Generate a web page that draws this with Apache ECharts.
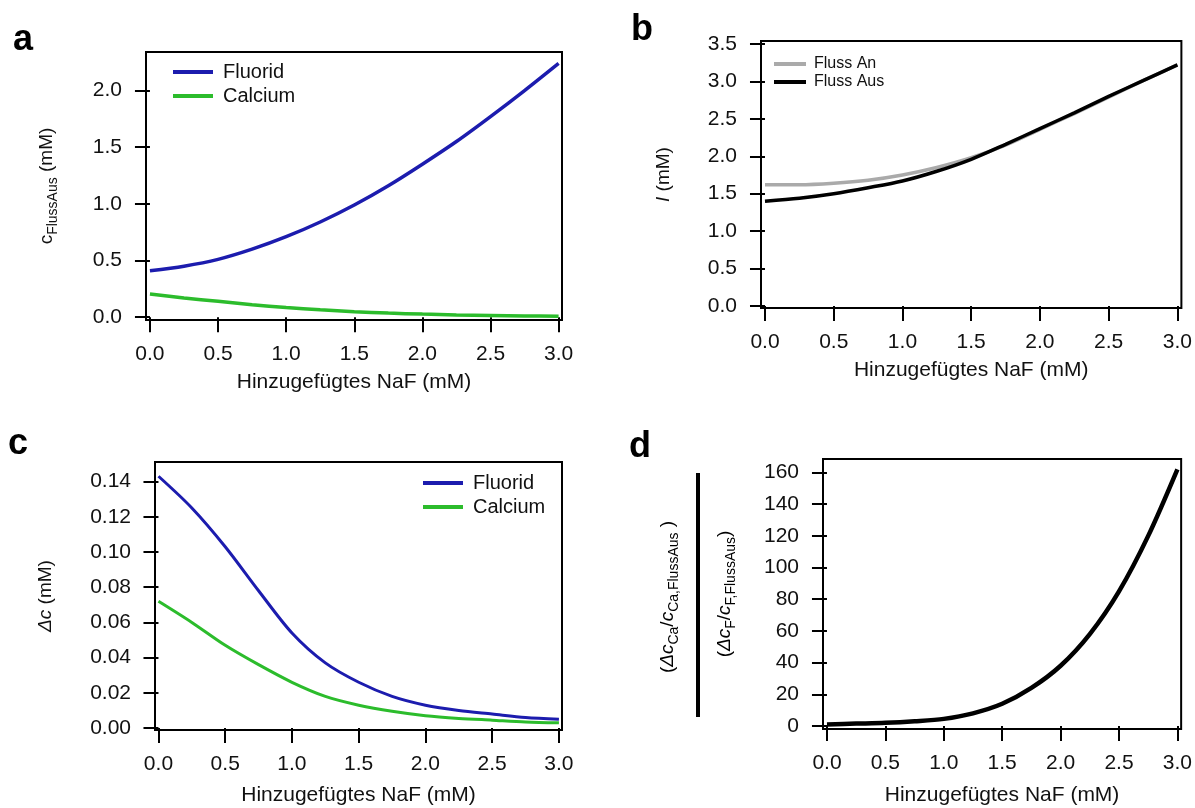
<!DOCTYPE html>
<html>
<head>
<meta charset="utf-8">
<script src="https://cdn.jsdelivr.net/npm/echarts@6/dist/echarts.min.js"></script>
<style>
  html, body { margin: 0; padding: 0; background: #fff; }
  #chart { width: 1195px; height: 808px; }
</style>
</head>
<body>
<div id="chart"></div>
<script>
// x-Werte: hinzugefügtes NaF (mM)
const naf = [0, 0.25, 0.5, 0.75, 1.0, 1.25, 1.5, 1.75, 2.0, 2.25, 2.5, 2.75, 3.0]

// a: c_FlussAus
const aFluorid = [0.41, 0.45, 0.51, 0.60, 0.71, 0.84, 0.99, 1.16, 1.35, 1.55, 1.77, 2.00, 2.24]
const aCalcium = [0.205, 0.17, 0.14, 0.11, 0.085, 0.065, 0.048, 0.036, 0.027, 0.02, 0.015, 0.011, 0.008]

// b: I
const bFlussAn = [1.62, 1.62, 1.64, 1.68, 1.75, 1.85, 1.98, 2.15, 2.36, 2.57, 2.79, 3.01, 3.22]
const bFlussAus = [1.40, 1.44, 1.50, 1.58, 1.67, 1.80, 1.96, 2.16, 2.37, 2.58, 2.80, 3.01, 3.22]

// c: delta c
const cFluorid = [0.143, 0.125, 0.103, 0.078, 0.054, 0.037, 0.026, 0.018, 0.013, 0.010, 0.008, 0.006, 0.005]
const cCalcium = [0.072, 0.060, 0.047, 0.036, 0.026, 0.018, 0.013, 0.0095, 0.007, 0.0055, 0.0045, 0.0035, 0.003]

// d: Verhältnis
const dRatio = [1, 1.5, 2, 3, 4.5, 8, 14, 24, 38, 58, 85, 120, 162]

// Achsenbeschriftungen
const xTicks = [0, 0.5, 1, 1.5, 2, 2.5, 3]
const aTicks = [0, 0.5, 1, 1.5, 2]
const bTicks = [0, 0.5, 1, 1.5, 2, 2.5, 3, 3.5]
const cTicks = [0, 0.02, 0.04, 0.06, 0.08, 0.1, 0.12, 0.14]
const dTicks = [0, 20, 40, 60, 80, 100, 120, 140, 160]

const FONT = '"Liberation Sans", Arial, sans-serif'
const INK = '#111'
const BLUE = '#1c1cae'
const GREEN = '#2cbc2c'
const xName = 'Hinzugefügtes NaF (mM)'

const pairs = ys => naf.map((x, i) => [x, ys[i]])

const richBase = {
  n: {fontSize: 19, fontFamily: FONT, color: INK, lineHeight: 26},
  i: {fontSize: 19, fontFamily: FONT, color: INK, fontStyle: 'italic', lineHeight: 26},
  sb: {fontSize: 14, fontFamily: FONT, color: INK, verticalAlign: 'bottom', lineHeight: 16},
}

function xAxisFor(gridIndex, min, max, nameGap) {
  return {
    type: 'value', gridIndex, min, max,
    name: xName, nameLocation: 'middle', nameGap,
    nameTextStyle: {fontSize: 21, fontFamily: FONT, color: INK},
    axisLine: {show: false},
    axisTick: {show: true, inside: false, length: 15, customValues: xTicks, lineStyle: {color: '#000', width: 2}},
    axisLabel: {customValues: xTicks, margin: 24, fontSize: 21, fontFamily: FONT, color: INK, formatter: v => v.toFixed(1)},
    splitLine: {show: false},
  }
}

function yAxisFor(gridIndex, min, max, ticks, digits, name, nameGap) {
  return {
    type: 'value', gridIndex, min, max,
    name, nameLocation: 'middle', nameGap,
    nameTextStyle: {rich: richBase},
    axisLine: {show: false},
    axisTick: {show: true, inside: false, length: 15, customValues: ticks, lineStyle: {color: '#000', width: 2}},
    axisLabel: {customValues: ticks, margin: 24, fontSize: 21, fontFamily: FONT, color: INK, formatter: v => v.toFixed(digits)},
    splitLine: {show: false},
  }
}

const gridBase = {show: true, borderColor: '#000', borderWidth: 2, backgroundColor: 'transparent'}

function line(name, data, color, width, xi, yi) {
  return {
    type: 'line', name, data: pairs(data), xAxisIndex: xi, yAxisIndex: yi,
    smooth: 0.3, symbol: 'none', showSymbol: false, animation: false,
    lineStyle: {color, width}, itemStyle: {color},
  }
}

const legendBase = {
  orient: 'vertical', icon: 'rect', itemWidth: 40, itemHeight: 4, itemGap: 4,
  textStyle: {fontSize: 20, fontFamily: FONT, color: INK, padding: [0, 0, 0, 5]},
  selectedMode: false,
}

const option = {
  backgroundColor: '#fff',
  animation: false,
  grid: [
    {...gridBase, left: 146, top: 52, width: 416, height: 268},
    {...gridBase, left: 761, top: 41, width: 421, height: 267},
    {...gridBase, left: 155, top: 462, width: 407, height: 268},
    {...gridBase, left: 823, top: 459, width: 360, height: 270},
  ],
  xAxis: [
    xAxisFor(0, -0.029, 3.025, 52),
    xAxisFor(1, -0.029, 3.029, 52),
    xAxisFor(2, -0.026, 3.023, 55),
    xAxisFor(3, -0.034, 3.032, 56),
  ],
  yAxis: [
    yAxisFor(0, -0.025, 2.34, aTicks, 1, '{n|c}{sb|FlussAus}{n| (mM)}', 86),
    yAxisFor(1, -0.027, 3.54, bTicks, 1, '{i|I}{n| (mM)}', 84),
    yAxisFor(2, -0.0011, 0.1511, cTicks, 2, '{i|Δc}{n| (mM)}', 96),
    yAxisFor(3, -1.9, 168.5, dTicks, 0, '', 0),
  ],
  legend: [
    {...legendBase, data: ['Fluorid', 'Calcium'], left: 168, top: 57},
    {...legendBase, data: ['Fluss An', 'Fluss Aus'], left: 769, top: 51, itemWidth: 32, itemGap: 2,
      textStyle: {...legendBase.textStyle, fontSize: 16, padding: [0, 0, 0, 3]}},
    {...legendBase, data: ['Fluorid', 'Calcium'], left: 418, top: 468},
  ],
  series: [
    line('Fluorid', aFluorid, BLUE, 3.5, 0, 0),
    line('Calcium', aCalcium, GREEN, 3.5, 0, 0),
    line('Fluss An', bFlussAn, '#aaaaaa', 3.5, 1, 1),
    line('Fluss Aus', bFlussAus, '#000000', 3.5, 1, 1),
    line('Fluorid', cFluorid, BLUE, 3, 2, 2),
    line('Calcium', cCalcium, GREEN, 3, 2, 2),
    line('Verhältnis', dRatio, '#000000', 4.5, 3, 3),
  ],
  graphic: [
    {type: 'text', x: 23, y: 40, style: {text: 'a', fontSize: 36, fontWeight: 'bold', fontFamily: FONT, fill: '#000', align: 'center', verticalAlign: 'middle'}},
    {type: 'text', x: 642, y: 30, style: {text: 'b', fontSize: 36, fontWeight: 'bold', fontFamily: FONT, fill: '#000', align: 'center', verticalAlign: 'middle'}},
    {type: 'text', x: 18, y: 444, style: {text: 'c', fontSize: 36, fontWeight: 'bold', fontFamily: FONT, fill: '#000', align: 'center', verticalAlign: 'middle'}},
    {type: 'text', x: 640, y: 447, style: {text: 'd', fontSize: 36, fontWeight: 'bold', fontFamily: FONT, fill: '#000', align: 'center', verticalAlign: 'middle'}},
    // d: Achsentitel als Bruch
    {type: 'text', x: 668, y: 597, rotation: Math.PI / 2, style: {
      text: '{n|(}{i|Δc}{sb|Ca}{n|/}{i|c}{sb|Ca,FlussAus}{n| )}', rich: richBase, align: 'center', verticalAlign: 'middle'}},
    {type: 'line', shape: {x1: 698, y1: 473, x2: 698, y2: 717}, style: {stroke: '#000', lineWidth: 4}},
    {type: 'text', x: 725, y: 594, rotation: Math.PI / 2, style: {
      text: '{n|(}{i|Δc}{sb|F}{n|/}{i|c}{sb|F,FlussAus}{n|)}', rich: richBase, align: 'center', verticalAlign: 'middle'}},
  ],
}

const chart = echarts.init(document.getElementById('chart'))
chart.setOption(option)
</script>
</body>
</html>
